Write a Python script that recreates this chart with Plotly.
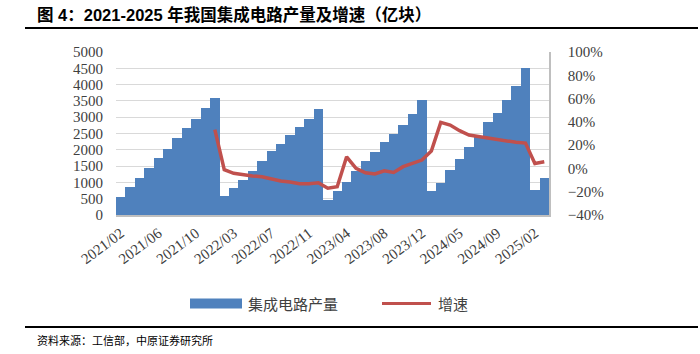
import plotly.graph_objects as go

months = (
    [f"2021/{m:02d}" for m in range(2, 13)]
    + [f"2022/{m:02d}" for m in range(2, 13)]
    + [f"2023/{m:02d}" for m in range(2, 13)]
    + [f"2024/{m:02d}" for m in range(2, 13)]
    + ["2025/02", "2025/03"]
)

output_2021 = [551, 850, 1130, 1440, 1740, 2040, 2350, 2660, 2960, 3270, 3594]
output_2022 = [592, 816, 1080, 1350, 1661, 1960, 2192, 2465, 2695, 2940, 3242]
output_2023 = [457, 745, 1020, 1350, 1657, 1918, 2225, 2470, 2755, 3110, 3514]
output_2024 = [743, 990, 1367, 1714, 2071, 2378, 2847, 3143, 3520, 3949, 4514]
output_2025 = [781, 1125]
production = output_2021 + output_2022 + output_2023 + output_2024 + output_2025

growth = (
    [None] * 10 + [33.3]
    + [-1.0, -4.2, -5.7, -6.5, -7.1, -9.1, -10.8, -11.7, -13.1, -13.1, -12.3]
    + [-17.0, -15.7, 10.0, 0.0, -3.7, -4.8, -2.0, -3.4, 1.5, 4.3, 7.2]
    + [15.0, 39.5, 37.2, 32.4, 28.7, 27.5, 25.8, 25.2, 23.8, 22.4, 21.8]
    + [4.3, 5.8]
)

tick_labels = ["2021/02", "2021/06", "2021/10", "2022/03", "2022/07", "2022/11",
               "2023/04", "2023/08", "2023/12", "2024/05", "2024/09", "2025/02"]
left_ticks = list(range(0, 5001, 500))
right_ticks = list(range(-40, 101, 20))
right_labels = [f"{v}%".replace("-", "\u2212") for v in right_ticks]

BLUE = "#4F81BD"
RED = "#C0504D"
TXT = "#404040"
SERIF = "Liberation Serif, Noto Sans CJK SC"
CJK = "Noto Sans CJK SC"

fig = go.Figure()
fig.add_trace(go.Bar(x=months, y=production, name="集成电路产量",
                     marker=dict(color=BLUE, line=dict(width=0)), yaxis="y"))
fig.add_trace(go.Scatter(x=months, y=growth, name="增速", mode="lines",
                         line=dict(color=RED, width=3.5), yaxis="y2",
                         connectgaps=False))

fig.update_layout(
    width=700, height=354,
    margin=dict(l=116, r=151, t=52, b=139),
    paper_bgcolor="white", plot_bgcolor="white",
    showlegend=False, bargap=0,
    xaxis=dict(type="category", range=[-0.5, len(months) - 0.5],
               tickmode="array", tickvals=tick_labels, ticktext=tick_labels,
               tickangle=-37, tickfont=dict(family=SERIF, size=15, color=TXT),
               showgrid=False, showline=True, linecolor="#BFBFBF", linewidth=1.5,
               ticks="", mirror=False, ticklabelstandoff=2),
    yaxis=dict(range=[0, 5000], tickmode="array", tickvals=left_ticks,
               ticktext=[str(v) for v in left_ticks],
               tickfont=dict(family=SERIF, size=15, color=TXT),
               showgrid=True, gridcolor="#D9D9D9", gridwidth=1,
               zeroline=False, showline=False, ticks="", ticklabelstandoff=12),
    yaxis2=dict(range=[-40, 100], tickmode="array", tickvals=right_ticks,
                ticktext=right_labels, overlaying="y", side="right",
                tickfont=dict(family=SERIF, size=15, color=TXT),
                showgrid=False, zeroline=False, showline=True,
                linecolor="#BFBFBF", linewidth=1.5, ticks="",
                ticklabelstandoff=14),
    font=dict(family=CJK, color=TXT),
)

# Title, rules and source
fig.add_annotation(text="<b>图 4：2021-2025 年我国集成电路产量及增速（亿块）</b>",
                   xref="paper", yref="paper", x=(35 - 116) / 433, y=1 + (52 - 14) / 163,
                   xanchor="left", yanchor="middle", showarrow=False,
                   font=dict(family="Liberation Sans, Noto Sans CJK SC", size=16.5, color="#000000"))
fig.add_shape(type="line", xref="paper", yref="paper",
              x0=(25 - 116) / 433, x1=(698 - 116) / 433,
              y0=1 + (52 - 28) / 163, y1=1 + (52 - 28) / 163,
              line=dict(color="#000000", width=2))
fig.add_shape(type="line", xref="paper", yref="paper",
              x0=(25 - 116) / 433, x1=(698 - 116) / 433,
              y0=-(327 - 215) / 163, y1=-(327 - 215) / 163,
              line=dict(color="#000000", width=2))
fig.add_annotation(text="资料来源：工信部，中原证券研究所",
                   xref="paper", yref="paper", x=(35 - 116) / 433, y=-(340 - 215) / 163,
                   xanchor="left", yanchor="middle", showarrow=False,
                   font=dict(family=CJK, size=11, color="#000000"))

# Legend
ly = -(303.5 - 215) / 163
fig.add_shape(type="rect", xref="paper", yref="paper",
              x0=(190 - 116) / 433, x1=(242 - 116) / 433,
              y0=ly - 5 / 163, y1=ly + 5 / 163,
              fillcolor=BLUE, line=dict(width=0))
fig.add_annotation(text="集成电路产量", xref="paper", yref="paper",
                   x=(246 - 116) / 433, y=ly, xanchor="left", yanchor="middle",
                   showarrow=False, font=dict(family=CJK, size=15, color=TXT))
fig.add_shape(type="line", xref="paper", yref="paper",
              x0=(382 - 116) / 433, x1=(431 - 116) / 433, y0=ly, y1=ly,
              line=dict(color=RED, width=3))
fig.add_annotation(text="增速", xref="paper", yref="paper",
                   x=(436 - 116) / 433, y=ly, xanchor="left", yanchor="middle",
                   showarrow=False, font=dict(family=CJK, size=15, color=TXT))

fig.write_html("out.html")
